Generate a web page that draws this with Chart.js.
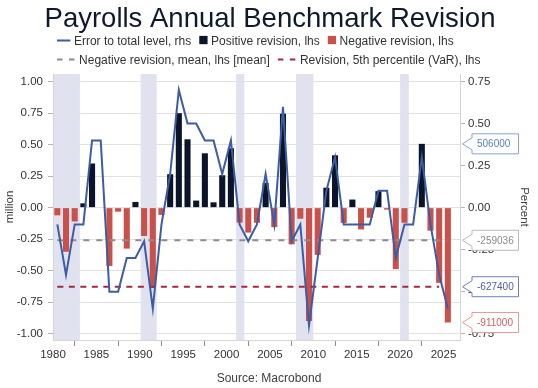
<!DOCTYPE html>
<html>
<head>
<meta charset="utf-8">
<script src="https://cdn.jsdelivr.net/npm/chart.js@4/dist/chart.umd.min.js"></script>
<style>
html,body{margin:0;padding:0;background:#ffffff;}
#wrap{width:538px;height:388px;position:relative;}
</style>
</head>
<body>
<div id="wrap"><canvas id="c" width="538" height="388"></canvas></div>
<script>
// ---------------- data ----------------
const TITLE = 'Payrolls Annual Benchmark Revision';
const SOURCE = 'Source: Macrobond';
const years = [1980,1981,1982,1983,1984,1985,1986,1987,1988,1989,
               1990,1991,1992,1993,1994,1995,1996,1997,1998,1999,
               2000,2001,2002,2003,2004,2005,2006,2007,2008,2009,
               2010,2011,2012,2013,2014,2015,2016,2017,2018,2019,
               2020,2021,2022,2023,2024,2025];
// benchmark revision, million (lhs)
const revisions = [-0.061,-0.350,-0.110, 0.034, 0.350, 0.000,-0.463,-0.032,-0.325, 0.045,
                   -0.225,-0.638,-0.058, 0.265, 0.749, 0.542, 0.056, 0.431, 0.042, 0.257,
                    0.471,-0.119,-0.198,-0.120, 0.196,-0.155, 0.745,-0.291,-0.088,-0.899,
                   -0.375, 0.158, 0.415,-0.121, 0.064,-0.173,-0.080, 0.131,-0.016,-0.488,
                   -0.120, 0.000, 0.506,-0.183,-0.597,-0.911];
// error to total level, percent (rhs)
const errorPct = [-0.1,-0.4,-0.1,-0.1, 0.4, 0.4,-0.5,-0.5,-0.3,-0.3,
                  -0.2,-0.6,-0.1, 0.2, 0.7, 0.5, 0.5, 0.4, 0.4, 0.2,
                   0.4,-0.1,-0.2,-0.1, 0.2,-0.1, 0.6,-0.2,-0.1,-0.7,
                  -0.3, 0.1, 0.3,-0.1,-0.1,-0.1,-0.1, 0.1, 0.1,-0.3,
                  -0.1,-0.1, 0.3,-0.1,-0.4,-0.6];
const NEG_MEAN = -0.259036;   // negative revision mean, million
const VAR5 = -0.6274;         // 5th percentile, million
const varLastYear = 2024;
const recessions = [[1980.0,1983.1],[1990.1,1991.95],[2001.1,2002.05],[2008.0,2010.0],[2020.0,2021.0]];
const xTicks = [1980,1985,1990,1995,2000,2005,2010,2015,2020,2025];
const leftTicks = [-1,-0.75,-0.5,-0.25,0,0.25,0.5,0.75,1];
const rightTicks = [-0.75,-0.5,-0.25,0,0.25,0.5,0.75];

// ---------------- derived ----------------
const mid = y => y + 0.5;
const xy = arr => arr.map((v,i) => ({x: mid(years[i]), y: v}));
const posRev = revisions.map(v => v > 0 ? v : null);
const negRev = revisions.map(v => v < 0 ? v : null);
const meanLine = years.map(y => ({x: mid(y), y: NEG_MEAN}));
const varLine = years.filter(y => y <= varLastYear).map(y => ({x: mid(y), y: VAR5}));
const lastPos = posRev.filter(v => v !== null).slice(-1)[0];
const lastNeg = negRev.filter(v => v !== null).slice(-1)[0];
const callouts = [
  {value: lastPos,  border:'#86a3d9', color:'#5a7ec4'},
  {value: NEG_MEAN, border:'#b8b8b8', color:'#8a8a8a'},
  {value: VAR5,     border:'#6a82b6', color:'#4a629e'},
  {value: lastNeg,  border:'#e79a9a', color:'#d25e5e'}
];

const FONT = "'Liberation Sans', Arial, sans-serif";
const BLUE = '#3d5ca3', NAVY = '#0b1428', RED = '#c9514c', GRAY = '#8c8c8c', DRED = '#a3293f';

const bandsPlugin = {
  id: 'bands',
  beforeDraw(chart) {
    const {ctx, chartArea: a, scales: {x}} = chart;
    ctx.save();
    ctx.beginPath(); ctx.rect(a.left, a.top, a.right - a.left, a.bottom - a.top); ctx.clip();
    ctx.fillStyle = '#e1e2ef';
    recessions.forEach(([s, e]) => {
      const x0 = x.getPixelForValue(s), x1 = x.getPixelForValue(e);
      ctx.fillRect(x0, a.top, x1 - x0, a.bottom - a.top);
    });
    ctx.restore();
  }
};

const headerPlugin = {
  id: 'header',
  afterDraw(chart) {
    const ctx = chart.ctx;
    const a = chart.chartArea;
    ctx.save();
    // title
    ctx.fillStyle = '#0e1a2c';
    ctx.font = '27.5px ' + FONT;
    ctx.textAlign = 'center';
    ctx.textBaseline = 'alphabetic';
    ctx.fillText(TITLE, 270, 26.7);
    // legend
    ctx.font = '12px ' + FONT;
    ctx.textAlign = 'left';
    const ds = chart.data.datasets;
    const rows = [[0,1,2],[3,4]];
    const rowY = [40.5, 59.5];
    rows.forEach((r, ri) => {
      let x = 57; const y = rowY[ri];
      r.forEach(i => {
        const d = ds[i];
        let w;
        if (d.type === 'bar') {
          w = 8.3;
          ctx.fillStyle = d.backgroundColor;
          ctx.fillRect(x, y - 4.6, w, 8.3);
        } else {
          w = d.borderDash ? 18.6 : 13.4;
          ctx.strokeStyle = d.borderColor;
          ctx.lineWidth = 2;
          ctx.setLineDash(d.borderDash ? [5.5, 6.5] : []);
          ctx.beginPath(); ctx.moveTo(x, y); ctx.lineTo(x + w, y); ctx.stroke();
          ctx.setLineDash([]);
        }
        x += w + 3.5;
        ctx.fillStyle = '#333333';
        ctx.fillText(d.label, x, y + 4.3);
        x += ctx.measureText(d.label).width + 8;
      });
    });
    // source
    ctx.textAlign = 'center';
    ctx.fillStyle = '#404040';
    ctx.fillText(SOURCE, 269, 382);
    // callouts
    const yS = chart.scales.y;
    ctx.font = '10px ' + FONT;
    ctx.textAlign = 'left';
    callouts.forEach(c => {
      const y = yS.getPixelForValue(c.value);
      const tip = a.right + 2.5, l = a.right + 12, r = a.right + 58.5, h = 10;
      ctx.beginPath();
      ctx.moveTo(tip, y);
      ctx.lineTo(l, y - 6); ctx.lineTo(l, y - h); ctx.lineTo(r, y - h);
      ctx.lineTo(r, y + h); ctx.lineTo(l, y + h); ctx.lineTo(l, y + 6);
      ctx.closePath();
      ctx.fillStyle = '#ffffff'; ctx.fill();
      ctx.strokeStyle = c.border; ctx.lineWidth = 1; ctx.stroke();
      ctx.fillStyle = c.color;
      ctx.fillText(String(Math.round(c.value * 1e6)), l + 5, y + 3.6);
    });
    ctx.restore();
  }
};

const tickFont = {family: FONT, size: 11.5};

new Chart(document.getElementById('c'), {
  type: 'bar',
  data: {
    datasets: [
      {type:'line', label:'Error to total level, rhs', data: xy(errorPct), yAxisID:'y1',
       borderColor: BLUE, borderWidth: 2, pointRadius: 0, tension: 0, order: 0},
      {type:'bar', label:'Positive revision, lhs', data: xy(posRev), yAxisID:'y',
       backgroundColor: NAVY, grouped: false, barPercentage: 0.7, categoryPercentage: 1, order: 5},
      {type:'bar', label:'Negative revision, lhs', data: xy(negRev), yAxisID:'y',
       backgroundColor: RED, grouped: false, barPercentage: 0.7, categoryPercentage: 1, order: 4},
      {type:'line', label:'Negative revision, mean, lhs [mean]', data: meanLine, yAxisID:'y',
       borderColor: GRAY, borderWidth: 2, borderDash: [6, 7], pointRadius: 0, order: 2},
      {type:'line', label:'Revision, 5th percentile (VaR), lhs', data: varLine, yAxisID:'y',
       borderColor: DRED, borderWidth: 2, borderDash: [6, 5.5], pointRadius: 0, order: 1}
    ]
  },
  options: {
    responsive: false,
    animation: false,
    devicePixelRatio: 1,
    layout: {padding: {top: 74, left: 0, right: 0, bottom: 0}},
    plugins: {legend: {display: false}, title: {display: false}, tooltip: {enabled: false}},
    scales: {
      x: {
        type: 'linear', min: 1980, max: 2026.9, offset: false,
        afterBuildTicks: s => { s.ticks = xTicks.map(v => ({value: v})); },
        afterFit: s => { s.height = 48; },
        grid: {drawOnChartArea: false, drawTicks: true, tickLength: 6, color: '#8f8f8f', tickColor: '#8f8f8f'},
        border: {display: true, color: '#d6d6d6'},
        ticks: {font: tickFont, color: '#333333', padding: 1.5, maxRotation: 0, autoSkip: false,
                callback: v => String(v)}
      },
      y: {
        position: 'left', min: -1.05, max: 1.06,
        afterBuildTicks: s => { s.ticks = leftTicks.map(v => ({value: v})); },
        afterFit: s => { s.width = 53; },
        grid: {color: '#e2e2e2', tickColor: '#b5b5b5', tickLength: 5},
        border: {display: true, color: '#d6d6d6'},
        ticks: {font: tickFont, color: '#333333', padding: 5, callback: v => v.toFixed(2)},
        title: {display: true, text: 'million', font: tickFont, color: '#404040', padding: {top: 3, bottom: 0}}
      },
      y1: {
        position: 'right', min: -0.7875, max: 0.795,
        afterBuildTicks: s => { s.ticks = rightTicks.map(v => ({value: v})); },
        afterFit: s => { s.width = 78; },
        grid: {drawOnChartArea: false, drawTicks: true, tickLength: 5, color: '#b5b5b5', tickColor: '#b5b5b5'},
        border: {display: true, color: '#d6d6d6'},
        ticks: {font: tickFont, color: '#333333', padding: 3, callback: v => v.toFixed(2)},
        title: {display: true, text: 'Percent', font: tickFont, color: '#404040', padding: {top: 6.8, bottom: 0}}
      }
    }
  },
  plugins: [bandsPlugin, headerPlugin]
});
</script>
</body>
</html>
